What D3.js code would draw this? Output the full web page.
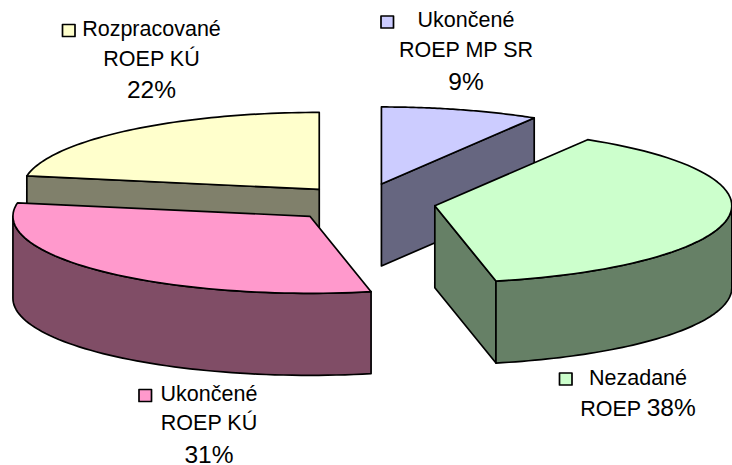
<!DOCTYPE html>
<html><head><meta charset="utf-8">
<script src="https://cdn.jsdelivr.net/npm/d3@7"></script>
<style>html,body{margin:0;padding:0;background:#fff}svg{display:block}text{font-family:"Liberation Sans",Arial,sans-serif;fill:#000}</style>
</head><body><svg id="c" width="732" height="465"></svg>
<script>
// Data (percent shares; labels show them rounded)
const categories = ["Ukončené ROEP MP SR", "Nezadané ROEP", "Ukončené ROEP KÚ", "Rozpracované ROEP KÚ"];
const values = [8.6, 38.1, 31.1, 22.2];
const topColors = ["#CCCCFF", "#CCFFCC", "#FF99CC", "#FFFFCC"];
const sideColors = ["#666680", "#668066", "#804D66", "#80806B"];
const explosion = [0.25, 0.25, 0.25, 0.222];

// Label layout per slice: lines split, text centre, baselines, legend key
const labelLines = [
  ["Ukončené", "ROEP MP SR", "{p}"],
  ["Nezadané", "ROEP {p}"],
  ["Ukončené", "ROEP KÚ", "{p}"],
  ["Rozpracované", "ROEP KÚ", "{p}"]
];
const labelCentre = [466, 638, 209, 151.5];
const labelBaselines = [[27, 57, 90], [385, 416], [401, 430, 463], [36, 66, 98]];
const keyOrigin = [[381, 16], [559.5, 373], [139, 389.5], [62.5, 24.5]];

// 3D projection
const radiusX = 297, radiusY = 77, depth = 82, centreX = 361.6, centreY = 202.5;
const sx = d3.scaleLinear().domain([-1, 1]).range([-radiusX, radiusX]);
const sy = d3.scaleLinear().domain([-1, 1]).range([-radiusY, radiusY]);
const fmt = d3.format(".0f");
const pie = d3.pie().sort(null).value(d => d)(values);
const svg = d3.select("#c");
const line = d3.line();

const slices = pie.map((p, i) => {
  const mid = (p.startAngle + p.endAngle) / 2;
  const ox = centreX + sx(Math.sin(mid)) * explosion[i];
  const oy = centreY + sy(-Math.cos(mid)) * explosion[i];
  const pt = (a, dz = 0) => [ox + sx(Math.sin(a)), oy + sy(-Math.cos(a)) + dz];
  const arc = (a0, a1, dz = 0) => d3.range(0, 61).map(k => pt(a0 + (a1 - a0) * k / 60, dz));
  return { ...p, i, ox, oy, pt, arc };
});

function stroke(sel) { return sel.attr("stroke", "#000").attr("stroke-width", 1.7).attr("stroke-linejoin", "round"); }
function poly(pts, fill) { stroke(svg.append("path")).attr("d", line(pts) + "Z").attr("fill", fill); }

// Back-to-front: Rozpracované, MP SR, Ukončené KÚ, Nezadané
[3, 0, 2, 1].forEach(i => {
  const s = slices[i];
  const apex = [s.ox, s.oy];
  const apexLow = [s.ox, s.oy + depth];
  const sideFill = sideColors[i];
  const cutFace = a => poly([apex, s.pt(a), s.pt(a, depth), apexLow], sideFill);
  // a cut face is visible when it looks down the screen
  if (Math.sin(s.startAngle) < -1e-6) cutFace(s.startAngle);
  if (Math.sin(s.endAngle) > 1e-6) cutFace(s.endAngle);
  // outer wall: only the part in front (between 90° and 270°)
  const w0 = Math.max(s.startAngle, Math.PI / 2), w1 = Math.min(s.endAngle, Math.PI * 1.5);
  if (w1 > w0) poly(s.arc(w0, w1).concat(s.arc(w0, w1, depth).reverse()), sideFill);
  // top face
  poly([apex].concat(s.arc(s.startAngle, s.endAngle)), topColors[i]);
});

// Labels
categories.forEach((c, i) => {
  const pct = fmt(values[i]) + "%";
  labelLines[i].forEach((l, j) => {
    const t = svg.append("text").attr("x", labelCentre[i]).attr("y", labelBaselines[i][j])
      .attr("text-anchor", "middle").attr("font-size", 21.5);
    const parts = l.split("{p}");
    if (parts[0]) t.append("tspan").text(parts[0]);
    if (parts.length > 1) t.append("tspan").attr("font-size", 24.5).text(pct);
  });
  stroke(svg.append("rect")).attr("x", keyOrigin[i][0]).attr("y", keyOrigin[i][1])
    .attr("width", 12.5).attr("height", 12).attr("fill", topColors[i]);
});
</script></body></html>
